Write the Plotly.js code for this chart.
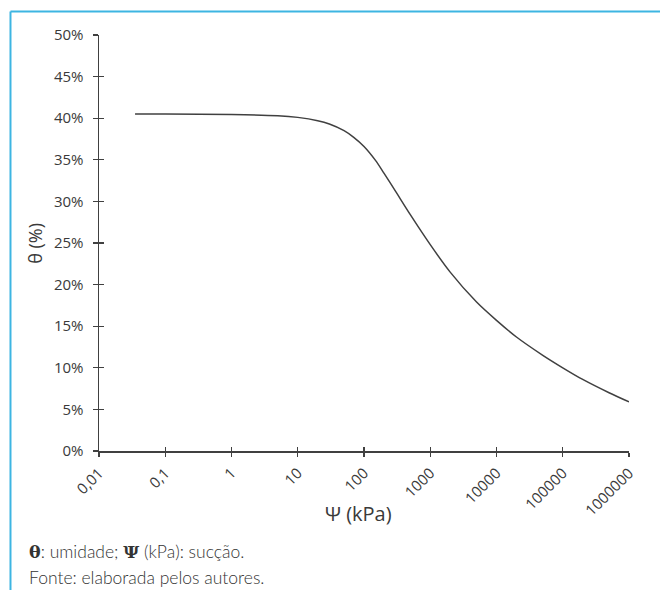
<!DOCTYPE html>
<html>
<head>
<meta charset="utf-8">
<script src="https://cdn.plot.ly/plotly-3.0.1.min.js"></script>
<style>
  html, body { margin: 0; padding: 0; background: #ffffff; }
  #chart { width: 660px; height: 590px; }
</style>
</head>
<body>
<div id="chart"></div>
<script>
// Suction (kPa) and volumetric water content (fraction)
var suction = [0.035, 0.1, 1, 5, 10, 20, 30, 50, 70, 100, 150, 200, 300, 500, 1000, 2000, 5000, 10000, 20000, 50000, 100000, 200000, 500000, 1000000];
var theta   = [0.405, 0.405, 0.4045, 0.403, 0.401, 0.397, 0.393, 0.385, 0.377, 0.366, 0.349, 0.334, 0.312, 0.284, 0.248, 0.215, 0.179, 0.157, 0.137, 0.115, 0.100, 0.086, 0.070, 0.059];

var xTickVals = [0.01, 0.1, 1, 10, 100, 1000, 10000, 100000, 1000000];
var xTickText = ["0,01", "0,1", "1", "10", "100", "1000", "10000", "100000", "1000000"];
var yTickVals = [0, 0.05, 0.10, 0.15, 0.20, 0.25, 0.30, 0.35, 0.40, 0.45, 0.50];
var yTickText = ["0%", "5%", "10%", "15%", "20%", "25%", "30%", "35%", "40%", "45%", "50%"];

var xTitle = "Ψ (kPa)";
var yTitle = "θ (%)";
var note1 = "<span style=\"font-family:'DejaVu Serif'\"><b>θ</b></span>: umidade; <span style=\"font-family:'DejaVu Serif'\"><b>Ψ</b></span> (kPa): sucção.";
var note2 = "Fonte: elaborada pelos autores.";

var axisColor = "#404040";
var textColor = "#3a3a3a";
var tickFont = {family: "Open Sans, sans-serif", size: 15, color: textColor};

var traces = [{
  x: suction,
  y: theta,
  type: "scatter",
  mode: "lines",
  line: {color: "#404040", width: 1.5, shape: "spline", smoothing: 0.8},
  hoverinfo: "x+y",
  showlegend: false
}];

// invisible trace activating the overlay axes used for crossing tick marks
traces.push({x: [xTickVals[0]], y: [yTickVals[0]], xaxis: "x2", yaxis: "y2", type: "scatter", mode: "markers",
  marker: {opacity: 0}, hoverinfo: "skip", showlegend: false});

var layout = {
  width: 660,
  height: 590,
  paper_bgcolor: "#ffffff",
  plot_bgcolor: "#ffffff",
  margin: {l: 99, r: 31, t: 35, b: 139},
  showlegend: false,
  xaxis: {
    type: "log",
    range: [-2, 6],
    tickvals: xTickVals,
    ticktext: xTickText,
    tickangle: -45,
    ticks: "outside",
    ticklen: 4,
    tickwidth: 1.3,
    tickcolor: axisColor,
    ticklabelstandoff: 2,
    showline: true,
    linecolor: axisColor,
    linewidth: 1.5,
    showgrid: false,
    zeroline: false,
    tickfont: tickFont
  },
  xaxis2: {
    type: "log",
    range: [-2, 6],
    overlaying: "x",
    anchor: "y",
    tickvals: xTickVals,
    showticklabels: false,
    ticks: "inside",
    ticklen: 4,
    tickwidth: 1.3,
    tickcolor: axisColor,
    showline: false,
    showgrid: false,
    zeroline: false
  },
  yaxis: {
    range: [0, 0.5],
    tickvals: yTickVals,
    ticktext: yTickText,
    ticks: "outside",
    ticklen: 5,
    tickwidth: 1.3,
    tickcolor: axisColor,
    ticklabelstandoff: 6,
    showline: true,
    linecolor: axisColor,
    linewidth: 1.5,
    showgrid: false,
    zeroline: false,
    tickfont: tickFont
  },
  yaxis2: {
    range: [0, 0.5],
    overlaying: "y",
    anchor: "x",
    side: "left",
    tickvals: yTickVals,
    showticklabels: false,
    ticks: "inside",
    ticklen: 5,
    tickwidth: 1.3,
    tickcolor: axisColor,
    showline: false,
    showgrid: false,
    zeroline: false
  },
  shapes: [
    {type: "line", xref: "paper", yref: "paper", x0: -0.167, x1: 1.06, y0: 1.0565, y1: 1.0565, line: {color: "#3db5e2", width: 2}},
    {type: "line", xref: "paper", yref: "paper", x0: -0.167, x1: -0.167, y0: 1.0565, y1: -0.34, line: {color: "#3db5e2", width: 2}}
  ],
  annotations: [
    {xref: "paper", yref: "paper", x: 0.489, y: -0.151, xanchor: "center", yanchor: "middle", showarrow: false,
     text: xTitle, font: {family: "Open Sans, sans-serif", size: 20, color: textColor}},
    {xref: "paper", yref: "paper", x: -0.121, y: 0.5, xanchor: "center", yanchor: "middle", showarrow: false,
     textangle: -90, text: yTitle, font: {family: "Open Sans, sans-serif", size: 18, color: textColor}},
    {xref: "paper", yref: "paper", x: -0.135, y: -0.241, xanchor: "left", yanchor: "middle", showarrow: false,
     text: note1, font: {family: "Lato, sans-serif", size: 17.5, weight: 300, color: "#333333"}},
    {xref: "paper", yref: "paper", x: -0.135, y: -0.304, xanchor: "left", yanchor: "middle", showarrow: false,
     text: note2, font: {family: "Lato, sans-serif", size: 17.5, weight: 300, color: "#333333"}}
  ]
};

Plotly.newPlot("chart", traces, layout, {displayModeBar: false, staticPlot: true});
</script>
</body>
</html>
